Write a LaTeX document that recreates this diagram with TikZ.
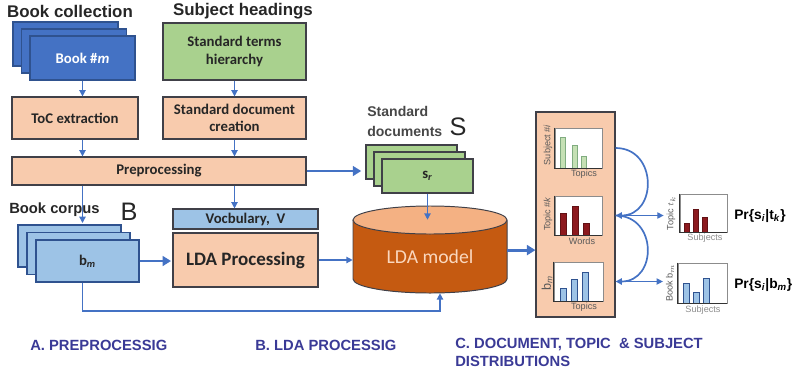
\documentclass[tikz,border=0pt]{standalone}
\usepackage{fontspec}
\setmainfont{Liberation Sans}
\newfontfamily\calfont{Carlito}
\usetikzlibrary{arrows.meta}

\definecolor{bookblue}{RGB}{68,114,196}
\definecolor{bookedge}{RGB}{47,82,143}
\definecolor{peach}{RGB}{248,203,173}
\definecolor{boxline}{RGB}{64,64,72}
\definecolor{sage}{RGB}{169,209,142}
\definecolor{skyblue}{RGB}{157,195,230}
\definecolor{arrowblue}{RGB}{68,114,196}
\definecolor{cylbody}{RGB}{197,90,17}
\definecolor{cyltop}{RGB}{244,177,131}
\definecolor{modeltxt}{RGB}{250,215,190}
\definecolor{capblue}{RGB}{58,58,150}
\definecolor{bargreen}{RGB}{197,224,180}
\definecolor{barred}{RGB}{140,25,30}

\tikzset{
  box/.style={draw=boxline, line width=0.8pt, fill=peach, inner sep=0pt,
    font=\calfont\bfseries\fontsize{10.5}{12.5}\selectfont, text=black!85, align=center},
  head/.style={font=\bfseries\fontsize{12}{14}\selectfont, text=black!85, inner sep=0pt},
  caption/.style={font=\bfseries\fontsize{10.5}{12.5}\selectfont, text=capblue, inner sep=0pt, align=left},
  flow/.style={draw=arrowblue, line width=0.9pt, -{Triangle[length=4.5pt,width=4.5pt]}},
  bigflow/.style={flow, line width=2pt, -{Triangle[length=6pt,width=7pt]}},
  chart/.style={draw=black!45, line width=0.5pt, fill=white, inner sep=0pt},
  chartaxis/.style={draw=black!80, line width=0.9pt},
  bars/.style={line width=0.5pt},
  tinylab/.style={font=\fontsize{6.5}{7}\selectfont, text=black!65, inner sep=0pt},
}

\begin{document}
\begin{tikzpicture}[x=0.025cm,y=-0.025cm]
\useasboundingbox (0,0) rectangle (795,376);

% Titres des colonnes
\node[head] (hbook) at (70,11) {Book collection};
\node[head] (hsubj) at (243,11) {Subject headings};

% Pile de livres
\node[box, fill=bookblue, draw=bookedge, minimum width=2.625cm, minimum height=1.1cm] (book3) at (65.5,44) {};
\node[box, fill=bookblue, draw=bookedge, minimum width=2.625cm, minimum height=1.1cm] (book2) at (74,51) {};
\node[box, fill=bookblue, draw=bookedge, minimum width=2.625cm, minimum height=1.1cm, text=white] (book) at (82.5,58) {Book \#\textit{m}};

\node[box, fill=sage, minimum width=3.575cm, minimum height=1.425cm] (terms) at (234.5,51.5) {Standard terms\\hierarchy};

\node[box, minimum width=3.15cm, minimum height=1.05cm] (toc) at (75,118) {ToC extraction};
\node[box, minimum width=3.575cm, minimum height=1.05cm] (sdc) at (234.5,118) {Standard document\\creation};
\node[box, minimum width=7.35cm, minimum height=0.7cm] (prep) at (159,171) {Preprocessing};

\draw[flow] (book.south) -- (book.south |- toc.north);
\draw[flow] (terms.south) -- (terms.south |- sdc.north);
\draw[flow] (book.south |- toc.south) -- (book.south |- prep.north);
\draw[flow] (terms.south |- sdc.south) -- (terms.south |- prep.north);

% Documents standards
\node[font=\bfseries\fontsize{10}{14}\selectfont, text=black!72, align=left, anchor=north west, inner sep=0pt] (hsdoc) at (367,106) {Standard\\documents};
\node[font=\fontsize{18}{18}\selectfont, text=black!85, inner sep=0pt] (setS) at (458,127) {S};
\node[box, fill=sage, minimum width=2.275cm, minimum height=0.85cm] (sdoc3) at (411.5,162) {};
\node[box, fill=sage, minimum width=2.275cm, minimum height=0.85cm] (sdoc2) at (419.5,169) {};
\node[box, fill=sage, minimum width=2.275cm, minimum height=0.85cm] (sdoc) at (427.5,176) {s\textsubscript{\textit{r}}};
\draw[bigflow] (prep.east) -- ([xshift=-3pt]prep.east -| sdoc3.west);

% Corpus de livres
\node[head, font=\bfseries\fontsize{10.5}{12}\selectfont, anchor=west] (hcorp) at (9,210) {Book corpus};
\node[font=\fontsize{18}{18}\selectfont, text=black!85, inner sep=0pt] (setB) at (129,212) {B};
\draw[flow] (book.south |- prep.south) -- (book.south |- 0,223);
\node[box, fill=skyblue, draw=bookedge, minimum width=2.575cm, minimum height=1.05cm] (corp3) at (69.5,246) {};
\node[box, fill=skyblue, draw=bookedge, minimum width=2.575cm, minimum height=1.05cm] (corp2) at (78.5,253.5) {};
\node[box, fill=skyblue, draw=bookedge, minimum width=2.575cm, minimum height=1.05cm] (corpus) at (87.5,261) {b\textsubscript{\textit{m}}};

% Traitement LDA
\node[box, fill=skyblue, minimum width=3.625cm, minimum height=0.5cm] (vocab) at (245.5,219) {Vocbulary,~ V};
\node[box, minimum width=3.625cm, minimum height=1.35cm, font=\calfont\bfseries\fontsize{13.5}{15}\selectfont] (ldaproc) at (245.5,260) {LDA Processing};
\draw[flow] (terms.south |- prep.south) -- (terms.south |- vocab.north);
\draw[bigflow] (corpus.east) -- ([xshift=-1pt]corpus.east -| ldaproc.west);

% Cylindre du modele
\fill[cylbody] (353,220) -- (353,279) arc[start angle=180, end angle=360, x radius=1.925cm, y radius=0.35cm] -- (507,220) -- cycle;
\draw[boxline, line width=0.7pt] (353,220) -- (353,279) arc[start angle=180, end angle=360, x radius=1.925cm, y radius=0.35cm] -- (507,220);
\draw[boxline, line width=0.7pt, fill=cyltop] (430,220) ellipse [x radius=1.925cm, y radius=0.35cm];
\node[minimum width=3.85cm, minimum height=1.825cm, inner sep=0pt, font=\calfont\fontsize{14}{16}\selectfont, text=modeltxt] (model) at (430,256.5) {LDA model};

\draw[flow] (ldaproc.east) -- (ldaproc.east -| model.west);
\draw[flow] (sdoc.south) -- (sdoc.south |- model.north);
\coordinate (base) at (440,311);
\draw[flow] (book.south |- corpus.south) |- (base) -- (base |- model.south);

% Distributions
\node[box, minimum width=1.975cm, minimum height=5.125cm] (panel) at (575.5,214.5) {};
\draw[bigflow] ([yshift=0.16cm]model.east) -- ([yshift=0.16cm]model.east -| panel.west);

\node[chart, minimum width=1.175cm, minimum height=1cm] (ch1) at (578.5,148) {};
\node[chart, minimum width=1.175cm, minimum height=0.975cm] (ch2) at (578.5,215.5) {};
\node[chart, minimum width=1.225cm, minimum height=0.975cm] (ch3) at (578.5,281.5) {};
\foreach \bx/\bh in {560/31,572/23,581/12}
  \draw[bars, draw=green!35!black!50, fill=bargreen] (\bx,168) rectangle ++(5,-\bh);
\foreach \bx/\bh in {560/22,572/29,583/12}
  \draw[bars, draw=barred!70!black, fill=barred] (\bx,235) rectangle ++(6,-\bh);
\foreach \bx/\bh in {560/13,571/22,582/29}
  \draw[bars, draw=bookedge, fill=skyblue] (\bx,301) rectangle ++(6,-\bh);
\foreach \c in {ch1,ch2,ch3}
  \draw[chartaxis] (\c.north west) |- (\c.south east);
\node[tinylab, rotate=90] (lab1) at (548,145) {Subject \#\textit{i}};
\node[tinylab, rotate=90] (lab2) at (548,214) {Topic \#\textit{k}};
\node[tinylab, rotate=90, font=\fontsize{9}{9}\selectfont] (lab3) at (547,283) {b\textsubscript{\textit{m}}};
\node[tinylab] (ax1) at (584,174.5) {Topics};
\node[tinylab] (ax2) at (582,241.5) {Words};
\node[tinylab] (ax3) at (584,307.5) {Topics};

% Fleches de combinaison
\draw[flow, line width=1.2pt] (panel.east |- ch1) .. controls +(42,0) and +(42,0) .. (panel.east |- ch2);
\draw[flow, line width=1.2pt] (panel.east |- ch2) .. controls +(42,0) and +(42,0) .. (panel.east |- ch3);

\node[tinylab, rotate=90] (tlab) at (671,213) {Topic $t_k$};
\node[tinylab, rotate=90] (blab) at (670,283) {Book b$_m$};
\draw[flow] (panel.east |- ch2) -- ([xshift=-2pt]tlab.north |- ch2);
\draw[flow] (panel.east |- ch3) -- ([xshift=-2pt]blab.north |- ch3);

\node[chart, minimum width=1.175cm, minimum height=0.95cm] (tch) at (703.5,213) {};
\node[chart, minimum width=1.225cm, minimum height=1cm] (bch) at (702.5,283) {};
\foreach \bx/\bh in {684/9,693/23,702/15}
  \draw[bars, draw=barred!70!black, fill=barred] (\bx,232) rectangle ++(5,-\bh);
\foreach \bx/\bh in {683/20,693/11,703/25}
  \draw[bars, draw=bookedge, fill=skyblue] (\bx,303) rectangle ++(6,-\bh);
\foreach \c in {tch,bch}
  \draw[chartaxis] (\c.north west) |- (\c.south east);
\node[tinylab, text=black!45] (ax4) at (705,238.5) {Subjects};
\node[tinylab, text=black!45] (ax5) at (703,310.5) {Subjects};

\node[font=\bfseries\fontsize{9.8}{12}\selectfont, anchor=west, inner sep=0pt] (prt) at (734,216) {Pr\{s\textsubscript{\textit{i}}|t\textsubscript{\textit{k}}\}};
\node[font=\bfseries\fontsize{9.8}{12}\selectfont, anchor=west, inner sep=0pt] (prb) at (734,285) {Pr\{s\textsubscript{\textit{i}}|b\textsubscript{\textit{m}}\}};

% Legendes des etapes
\node[caption, anchor=west] (capA) at (30,345) {A. PREPROCESSIG};
\node[caption, anchor=west] (capB) at (255,345) {B. LDA PROCESSIG};
\node[caption, anchor=north west] (capC) at (455,338) {C. DOCUMENT, TOPIC~ \& SUBJECT\\DISTRIBUTIONS};

\end{tikzpicture}
\end{document}
